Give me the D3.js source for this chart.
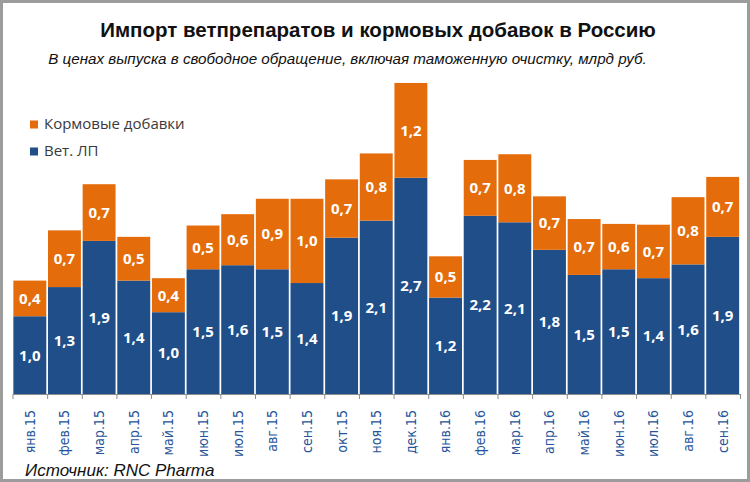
<!DOCTYPE html>
<html><head><meta charset="utf-8">
<script src="https://cdn.jsdelivr.net/npm/d3@7"></script>
<style>html,body{margin:0;padding:0;background:#fff;}svg{display:block;}</style>
</head><body>
<svg id="chart" width="750" height="482"></svg>
<script>
const months = ["янв.15","фев.15","мар.15","апр.15","май.15","июн.15","июл.15","авг.15","сен.15","окт.15","ноя.15","дек.15","янв.16","фев.16","мар.16","апр.16","май.16","июн.16","июл.16","авг.16","сен.16"];
const vetLP = [0.96,1.32,1.89,1.40,1.01,1.54,1.59,1.54,1.37,1.93,2.14,2.67,1.19,2.20,2.12,1.78,1.47,1.54,1.43,1.60,1.94];
const feed  = [0.44,0.70,0.70,0.54,0.42,0.54,0.63,0.87,1.04,0.72,0.83,1.17,0.51,0.69,0.84,0.66,0.69,0.56,0.66,0.83,0.74];
const seriesNames = ["Кормовые добавки","Вет. ЛП"];
const title = "Импорт ветпрепаратов и кормовых добавок в Россию";
const subtitle = "В ценах выпуска в свободное обращение, включая таможенную очистку, млрд руб.";
const source = "Источник: RNC Pharma";

const BLUE = "#1F4E89", ORANGE = "#E46C0A";
const svg = d3.select("#chart");
svg.append("rect").attr("x",1.5).attr("y",1.5).attr("width",747).attr("height",479)
  .attr("fill","#fff").attr("stroke","#9c9c9c").attr("stroke-width",3);

const x0 = 12.5, x1 = 740, base = 394;
const x = d3.scaleBand().domain(months).range([x0,x1]).paddingInner(0.05).paddingOuter(0.025);
const xi = d3.scaleLinear().domain([0, months.length]).range([x0,x1]);
const y = d3.scaleLinear().domain([0,4]).range([base, base-324]);
const loc = d3.formatLocale({decimal:",", thousands:" ", grouping:[3], currency:["",""]});
const fmt = loc.format(".1f");

const data = months.map((m,i)=>({m, v:vetLP[i], f:feed[i]}));

const g = svg.append("g");
g.selectAll("rect.v").data(data).join("rect").attr("class","v")
  .attr("x",d=>x(d.m)).attr("width",x.bandwidth())
  .attr("y",d=>y(d.v)).attr("height",d=>y(0)-y(d.v)).attr("fill",BLUE);
g.selectAll("rect.f").data(data).join("rect").attr("class","f")
  .attr("x",d=>x(d.m)).attr("width",x.bandwidth())
  .attr("y",d=>y(d.v+d.f)).attr("height",d=>y(d.v)-y(d.v+d.f)).attr("fill",ORANGE);

const lab = {"font-family":"'Open Sans', sans-serif","font-weight":"bold","font-size":"15px","fill":"#fff","text-anchor":"middle"};
function styl(sel,o){for(const k in o) sel.attr(k,o[k]); return sel;}
styl(g.selectAll("text.v").data(data).join("text").attr("class","v")
  .attr("x",d=>x(d.m)+x.bandwidth()/2).attr("y",d=>(y(0)+y(d.v))/2).attr("dy","0.36em")
  .text(d=>fmt(d.v)), lab);
styl(g.selectAll("text.f").data(data).join("text").attr("class","f")
  .attr("x",d=>x(d.m)+x.bandwidth()/2).attr("y",d=>(y(d.v)+y(d.v+d.f))/2).attr("dy","0.36em")
  .text(d=>fmt(d.f)), lab);

// axis with boundary ticks
const axT = svg.append("g").attr("transform",`translate(0,${base})`)
  .call(d3.axisBottom(xi).tickValues(d3.range(months.length+1)).tickFormat("").tickSize(5).tickSizeOuter(0));
axT.selectAll("line").attr("stroke","#8c8c8c");
axT.select(".domain").attr("stroke","#8c8c8c").attr("stroke-width",1.2);

const axL = svg.append("g").attr("transform",`translate(0,${base})`)
  .call(d3.axisBottom(x).tickSize(0));
axL.select(".domain").remove();
axL.selectAll("text").attr("transform","rotate(-90)").attr("x",-16).attr("y",0).attr("dy","0.35em")
  .attr("text-anchor","end").attr("fill","#27559b")
  .style("font-family","'Liberation Sans Narrow','DejaVu Sans Condensed',sans-serif").style("font-size","14px");

// title
svg.append("text").attr("x",378).attr("y",36.5).attr("text-anchor","middle")
  .style("font-family","'Liberation Sans',Arial,sans-serif").style("font-weight","bold").style("font-size","20.5px")
  .attr("fill","#111").text(title);
svg.append("text").attr("x",347.5).attr("y",64).attr("text-anchor","middle")
  .style("font-family","'Liberation Sans',Arial,sans-serif").style("font-style","italic").style("font-size","15.2px")
  .attr("fill","#111").text(subtitle);
svg.append("text").attr("x",25).attr("y",475.5)
  .style("font-family","'Liberation Sans',Arial,sans-serif").style("font-style","italic").style("font-size","17px")
  .attr("fill","#111").text(source);

// legend
const leg = svg.append("g");
const legItems = [{n:seriesNames[0], c:ORANGE, y:129},{n:seriesNames[1], c:BLUE, y:156}];
legItems.forEach(d=>{
  leg.append("rect").attr("x",30).attr("y",d.y-8.5).attr("width",8).attr("height",8).attr("fill",d.c);
  leg.append("text").attr("x",44).attr("y",d.y).text(d.n)
    .style("font-family","'Open Sans',sans-serif").style("font-size","15px").attr("fill","#3a3a3a");
});
</script>
</body></html>
